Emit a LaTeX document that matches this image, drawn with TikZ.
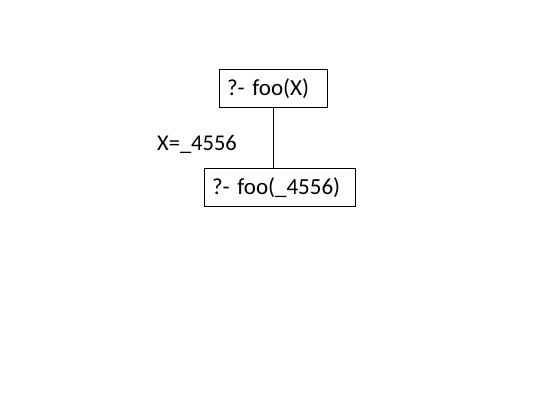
\documentclass[tikz,border=0pt]{standalone}
\usepackage{fontspec}
\setmainfont{Carlito}
\begin{document}
\begin{tikzpicture}[x=1pt,y=1pt,
  goal/.style={draw=black, line width=0.8pt, font=\fontsize{23}{26}\selectfont, inner xsep=8pt, inner ysep=0pt, align=left, minimum height=38.7pt, anchor=center},
  lbl/.style={font=\fontsize{22.5}{26}\selectfont, inner sep=0pt}]
\useasboundingbox (0,0) rectangle (550,-400);
\node[goal, text width=92.5pt] (top) at (273.25,-88.4) {?- foo(X)};
\node[goal, text width=135.7pt] (bot) at (279.85,-187.4) {?- foo(\_4556)};
\draw[line width=0.8pt] (top.south -| 273,0) -- (bot.north -| 273,0);
\node[lbl] (eq) at (197,-144) {X=\_4556};
\end{tikzpicture}
\end{document}
